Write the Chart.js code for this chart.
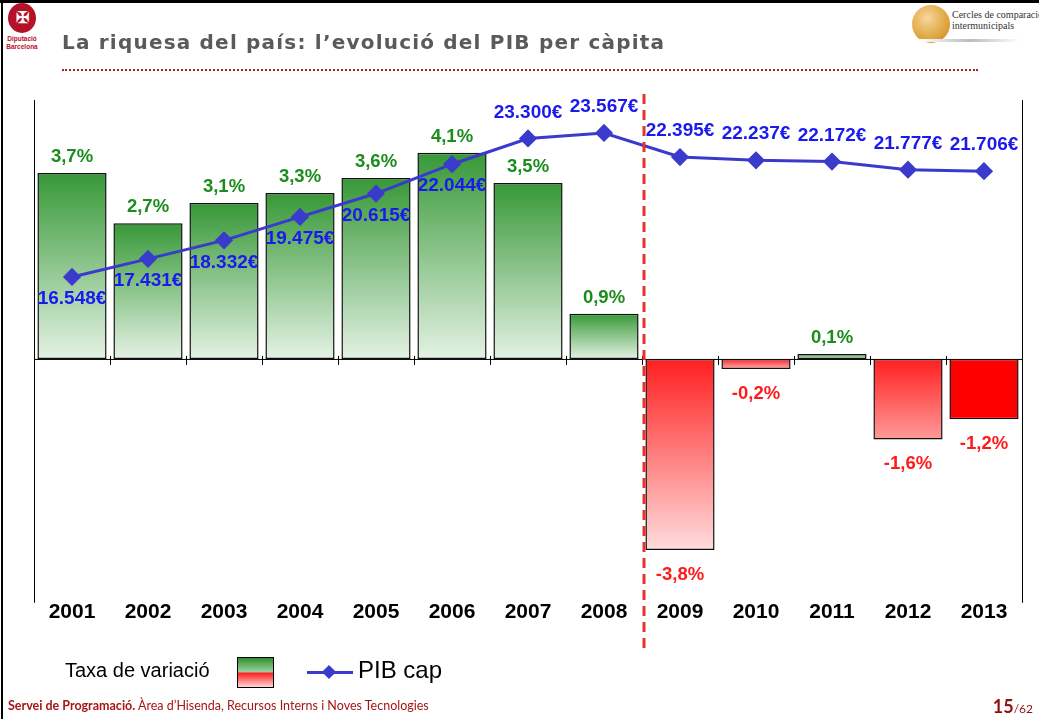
<!DOCTYPE html>
<html lang="ca">
<head>
    <meta charset="UTF-8">
    <title>La riquesa del país: l’evolució del PIB per càpita</title>
    <script src="https://cdn.jsdelivr.net/npm/chart.js@4.4.1/dist/chart.umd.min.js"></script>
    <style>
        body {
            margin: 0;
            background: #fff;
            font-family: "Liberation Sans", Arial, sans-serif;
        }
        .slide {
            position: relative;
            width: 1039px;
            height: 719px;
            overflow: hidden;
            background: #fff;
        }
        .frame-top {
            position: absolute; left: 0; top: 0; width: 1039px; height: 3px; background: #000;
        }
        .frame-left {
            position: absolute; left: 1px; top: 0; width: 2px; height: 719px; background: #000;
        }
        .chart-box {
            position: absolute; left: 0; top: 0; width: 1039px; height: 719px;
        }
        .dipu {
            position: absolute; left: 5px; top: 3px; width: 34px; height: 54px; background: #fff;
            text-align: center;
        }
        .dipu .seal {
            width: 28px; height: 30px; margin: 0 auto; border-radius: 50%;
            background: #b5122a; color: #fff; font-size: 16px; line-height: 30px; font-weight: bold;
        }
        .dipu .txt {
            color: #b5122a; font-size: 6.5px; font-weight: bold; line-height: 8px; margin-top: 2px;
        }
        h1 {
            position: absolute; left: 62px; top: 30px; margin: 0;
            font-family: "DejaVu Sans", sans-serif;
            font-weight: bold; font-size: 20px; color: #5a5a5a; letter-spacing: 1.2px;
        }
        .dots {
            position: absolute; left: 62px; top: 69px; width: 916px; height: 0;
            border-top: 2px dotted #b0201c;
        }
        .cercles {
            position: absolute; left: 900px; top: 3px; width: 139px; height: 40px; background: #fff;
        }
        .cercles .globe {
            position: absolute; left: 12px; top: 2px; width: 38px; height: 38px; border-radius: 50%;
            background: radial-gradient(circle at 40% 35%, #f6d79a, #e0a440 60%, #c27a1c);
        }
        .cercles .name {
            position: absolute; left: 52px; top: 6px; font-family: "Liberation Serif", serif;
            font-size: 10px; line-height: 11px; color: #333; white-space: nowrap;
        }
        .cercles .shadow {
            position: absolute; left: 20px; top: 36px; width: 100px; height: 3px;
            background: linear-gradient(to right, #fff, #bbb, #fff);
        }
        .legend {
            position: absolute; left: 65px; top: 655px; height: 34px; white-space: nowrap;
        }
        .legend .lab1 {
            position: absolute; left: 0; top: 4px; font-size: 20px; color: #000;
        }
        .legend .swatch {
            position: absolute; left: 172px; top: 2px; width: 35px; height: 29px; border: 1px solid #000;
            background: linear-gradient(to bottom, #2f8f2f 0%, #9fd09f 48%, #ff2020 52%, #ffd6d6 100%);
        }
        .legend .line {
            position: absolute; left: 242px; top: 16px; width: 46px; height: 3px; background: #3a3acc;
        }
        .legend .diamond {
            position: absolute; left: 259px; top: 12px; width: 10px; height: 10px; background: #3a3acc;
            transform: rotate(45deg);
        }
        .legend .lab2 {
            position: absolute; left: 293px; top: 1px; font-size: 24px; color: #000;
        }
        .footer {
            position: absolute; left: 8px; top: 698px; font-family: Lato, "Open Sans", sans-serif;
            font-size: 12.5px; color: #a51616; white-space: nowrap;
        }
        .page {
            position: absolute; right: 6px; top: 695px; font-family: Lato, "Open Sans", sans-serif;
            color: #8e1010; white-space: nowrap;
        }
        .page b { font-size: 18px; }
        .page span { font-size: 12px; }
    </style>
</head>
<body>
<div class="slide">
    <div class="chart-box"><canvas id="pibChart"></canvas></div>
    <div class="frame-top"></div>
    <div class="frame-left"></div>
    <div class="dipu"><div class="seal">✠</div><div class="txt">Diputació<br>Barcelona</div></div>
    <h1>La riquesa del país: l’evolució del PIB per càpita</h1>
    <div class="dots"></div>
    <div class="cercles"><div class="globe"></div><div class="name">Cercles de comparació<br>intermunicipals</div><div class="shadow"></div></div>
    <div class="legend">
        <div class="lab1">Taxa de variació</div>
        <div class="swatch"></div>
        <div class="line"></div>
        <div class="diamond"></div>
        <div class="lab2">PIB cap</div>
    </div>
    <div class="footer"><b>Servei de Programació.</b> Àrea d’Hisenda, Recursos Interns i Noves Tecnologies</div>
    <div class="page"><b>15</b><span>/62</span></div>
</div>

<script>
    // Data
    const years = ['2001', '2002', '2003', '2004', '2005', '2006', '2007', '2008', '2009', '2010', '2011', '2012', '2013'];
    const growth = [3.7, 2.7, 3.1, 3.3, 3.6, 4.1, 3.5, 0.9, -3.8, -0.2, 0.1, -1.6, -1.2];
    const pibCap = [16548, 17431, 18332, 19475, 20615, 22044, 23300, 23567, 22395, 22237, 22172, 21777, 21706];

    // colours
    const greenTop = '#379837', greenBottom = '#e4f2e4';
    const redTop = '#ff1f1f';
    const redFade = { '2009': '#ffdcdc', '2010': '#ffb4b4', '2012': '#ff9a9a', '2013': '#ff0000' };
    const lineColor = '#3a3acc';
    const labelGreen = '#1c8c1c', labelRed = '#ff1a1a', labelBlue = '#1a1aee';

    const fmtPct = v => v.toFixed(1).replace('.', ',') + '%';
    const fmtEur = v => String(v).replace(/\B(?=(\d{3})+(?!\d))/g, '.') + '€';

    function barFill(context) {
        const chart = context.chart;
        if (!chart.chartArea) return greenTop;
        const y = chart.scales.y;
        const v = context.raw;
        const y0 = y.getPixelForValue(0);
        const y1 = y.getPixelForValue(v);
        if (v >= 0) {
            const g = chart.ctx.createLinearGradient(0, y1, 0, y0);
            g.addColorStop(0, greenTop);
            g.addColorStop(1, greenBottom);
            return g;
        }
        const g = chart.ctx.createLinearGradient(0, y0, 0, y1);
        g.addColorStop(0, years[context.dataIndex] === '2013' ? '#ff0000' : redTop);
        g.addColorStop(1, redFade[years[context.dataIndex]] || '#ffd0d0');
        return g;
    }

    // axis lines, zero line and tick marks
    const axesPlugin = {
        id: 'axesLines',
        beforeDatasetsDraw(chart) {
            const { ctx, chartArea, scales } = chart;
            const y0 = scales.y.getPixelForValue(0);
            ctx.save();
            ctx.strokeStyle = '#000';
            ctx.lineWidth = 1;
            ctx.beginPath();
            ctx.moveTo(chartArea.left + 0.5, chartArea.top);
            ctx.lineTo(chartArea.left + 0.5, chartArea.bottom);
            ctx.moveTo(chartArea.right + 0.5, chartArea.top);
            ctx.lineTo(chartArea.right + 0.5, chartArea.bottom);
            ctx.moveTo(chartArea.left, y0 + 0.5);
            ctx.lineTo(chartArea.right, y0 + 0.5);
            for (let i = 1; i < years.length; i++) {
                const x = Math.round((scales.x.getPixelForValue(i - 1) + scales.x.getPixelForValue(i)) / 2) + 0.5;
                ctx.moveTo(x, y0 - 3);
                ctx.lineTo(x, y0 + 6);
            }
            ctx.stroke();
            ctx.restore();
        },
        afterDatasetsDraw(chart) {
            const { ctx, chartArea, scales } = chart;
            ctx.save();
            // dashed red divider between 2008 and 2009
            const xd = (scales.x.getPixelForValue(7) + scales.x.getPixelForValue(8)) / 2 + 2;
            ctx.strokeStyle = '#e8322a';
            ctx.lineWidth = 3;
            ctx.setLineDash([10, 6]);
            ctx.beginPath();
            ctx.moveTo(xd, chartArea.top - 6);
            ctx.lineTo(xd, chartArea.bottom + 46);
            ctx.stroke();
            ctx.setLineDash([]);

            ctx.textAlign = 'center';
            ctx.textBaseline = 'middle';
            ctx.font = 'bold 18.5px "Liberation Sans", Arial, sans-serif';
            const bars = chart.getDatasetMeta(0).data;
            bars.forEach((bar, i) => {
                const v = growth[i];
                ctx.fillStyle = v >= 0 ? labelGreen : labelRed;
                const ly = v >= 0 ? bar.y - 16 : bar.y + 25;
                ctx.fillText(fmtPct(v), bar.x, ly);
            });
            ctx.font = 'bold 19px "Liberation Sans", Arial, sans-serif';
            ctx.fillStyle = labelBlue;
            const pts = chart.getDatasetMeta(1).data;
            pts.forEach((p, i) => {
                const ly = i < 6 ? p.y + 22 : p.y - 26;
                ctx.fillText(fmtEur(pibCap[i]), p.x, ly);
            });
            ctx.restore();
        }
    };

    const ctx = document.getElementById('pibChart').getContext('2d');
    new Chart(ctx, {
        data: {
            labels: years,
            datasets: [
                {
                    type: 'bar',
                    label: 'Taxa de variació',
                    data: growth,
                    yAxisID: 'y',
                    backgroundColor: barFill,
                    borderColor: '#111',
                    borderWidth: 1.5,
                    borderSkipped: false,
                    barPercentage: 0.91,
                    categoryPercentage: 1,
                    order: 2
                },
                {
                    type: 'line',
                    label: 'PIB cap',
                    data: pibCap,
                    yAxisID: 'y1',
                    borderColor: lineColor,
                    backgroundColor: lineColor,
                    borderWidth: 3,
                    pointStyle: 'rectRot',
                    pointRadius: 7,
                    pointBackgroundColor: lineColor,
                    pointBorderColor: lineColor,
                    tension: 0,
                    order: 1
                }
            ]
        },
        options: {
            responsive: true,
            maintainAspectRatio: false,
            animation: false,
            layout: { padding: { left: 34, right: 17, top: 100, bottom: 97 } },
            plugins: {
                legend: { display: false },
                tooltip: { enabled: false }
            },
            scales: {
                x: {
                    grid: { display: false, drawTicks: false },
                    border: { display: false },
                    ticks: {
                        color: '#000',
                        padding: -3,
                        font: { family: '"Liberation Sans", Arial, sans-serif', size: 21, weight: 'bold' }
                    }
                },
                y: { display: false, min: -4.85, max: 5.15 },
                y1: { display: false, min: 663, max: 25175 }
            }
        },
        plugins: [axesPlugin]
    });
</script>
</body>
</html>
